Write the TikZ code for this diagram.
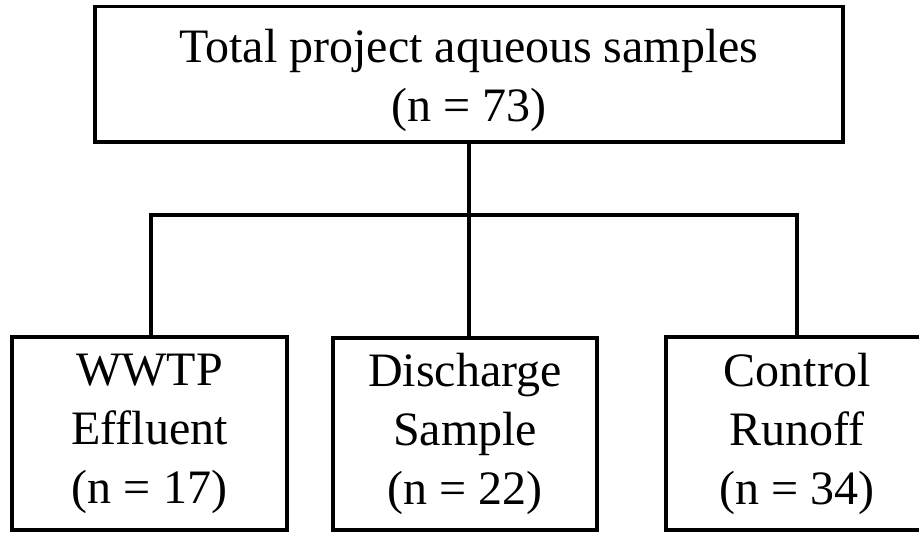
\documentclass[tikz,border=0pt]{standalone}
\usepackage{fontspec}
\setmainfont{Liberation Serif}
\begin{document}
\begin{tikzpicture}[x=1pt,y=-1pt,
  box/.style={draw=black, line width=3.8pt, fill=white, inner sep=0pt, align=center,
    font=\fontsize{48}{59}\selectfont},
  link/.style={draw=black, line width=3.6pt}]
\useasboundingbox (0,0) rectangle (919,533);
\clip (0,0) rectangle (919,533);
\node[box, minimum width=748pt, minimum height=135.5pt] (top) at (469,74.25)
  {\rule{0pt}{45pt}Total project aqueous samples\\(n = 73)};
\node[box, minimum width=275pt, minimum height=193pt] (wwtp) at (149.5,433.5)
  {WWTP\\Effluent\\(n = 17)};
\node[box, minimum width=264pt, minimum height=192pt] (disc) at (465,434)
  {Discharge\\Sample\\(n = 22)};
\node[box, minimum width=262pt, minimum height=193pt] (ctrl) at (797,433.5)
  {Control\\Runoff\\(n = 34)};
\coordinate (bar) at (469,215);
\coordinate (barL) at (151,215);
\draw[link] (top.south) -- (bar);
\draw[link] (barL |- wwtp.north) -- (barL) -- (bar) -| (ctrl.north);
\draw[link] (bar) -- (bar |- disc.north);
\end{tikzpicture}
\end{document}
